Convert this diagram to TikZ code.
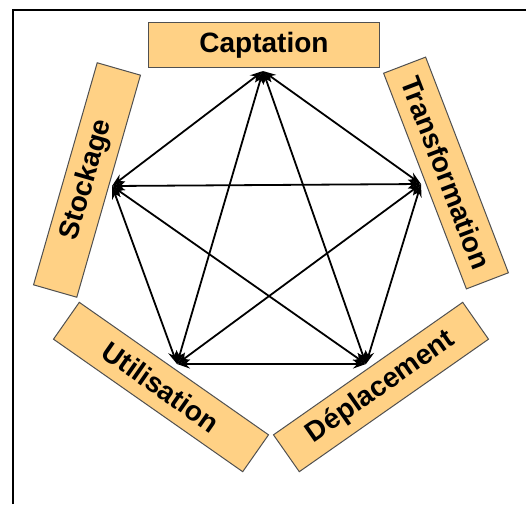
\documentclass[tikz,border=0pt]{standalone}
\usepackage{fontspec}
\setmainfont{Liberation Sans}
\usepackage{xcolor}
\usetikzlibrary{arrows.meta}
\definecolor{boxorange}{HTML}{FFD185}
\definecolor{boxedge}{HTML}{505050}
\tikzset{
stagebox/.style={rectangle, draw=boxedge,fill=boxorange,line width=1pt, inner sep=0pt, minimum width= 231pt, minimum height = 45pt, font=\fontsize{28}{30}\selectfont\bfseries},
linkarrow/.style={line width=1.8pt, black, {Stealth[length=13pt,width=9pt]}-{Stealth[length=13pt,width=9pt]}},
}
\begin{document}
\begin{tikzpicture}[x=1pt,y=-1pt]
    \useasboundingbox (0,0) rectangle (526,504);
    \draw[line width=2pt] (13,504) -- (13,10) -- (526,10);
    \node[stagebox] at (264,45) (captation) {Captation};
    \node[stagebox, rotate=74] at (87,180) (stockage) {Stockage};
    \node[stagebox, rotate=-69] at (446,173) (transformation) {Transformation};
    \node[stagebox, rotate=-35] at (161,387) (utilisation) {Utilisation};
    \node[stagebox, rotate=35] at (381,387) (deplacement) {D\'eplacement};
    \coordinate (c) at (263,71);
    \coordinate (t) at (421,184);
    \coordinate (d) at (366,364);
    \coordinate (u) at (177,364);
    \coordinate (s) at (112,186);
    \foreach \a/\b in {c/t,c/d,c/u,c/s,t/d,t/u,t/s,d/u,d/s,u/s}
      \draw[linkarrow] (\a) -- (\b);
\end{tikzpicture}
\end{document}
